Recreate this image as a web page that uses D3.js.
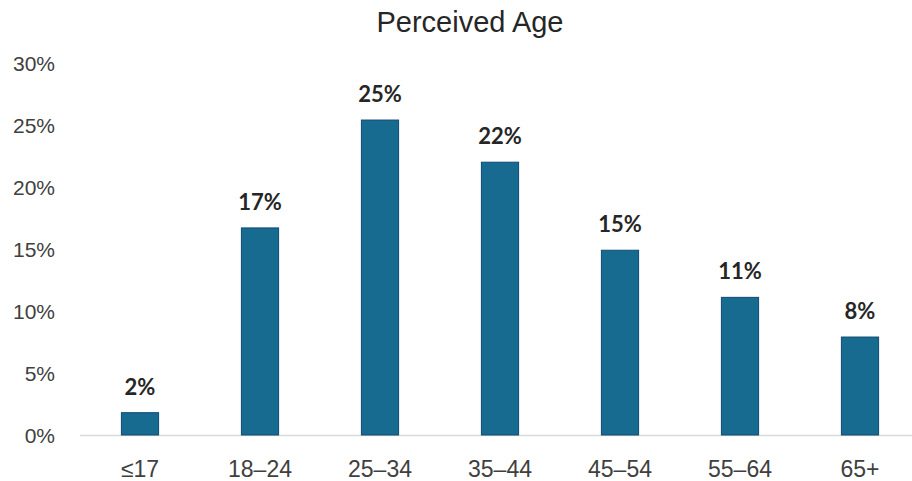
<!DOCTYPE html>
<html>
<head>
<meta charset="utf-8">
<script src="https://cdn.jsdelivr.net/npm/d3@7"></script>
<style>
  html, body { margin: 0; padding: 0; background: #ffffff; }
  svg { display: block; }
</style>
</head>
<body>
<svg id="chart" width="912" height="481"></svg>
<script>
const categories = ["≤17", "18–24", "25–34", "35–44", "45–54", "55–64", "65+"];
const values = [1.8, 16.7, 25.4, 22.0, 14.9, 11.1, 7.9];
const dataLabels = ["2%", "17%", "25%", "22%", "15%", "11%", "8%"];
const yTicks = [0, 5, 10, 15, 20, 25, 30];
const title = "Perceived Age";

const svg = d3.select("#chart");

const x = d3.scaleBand()
  .domain(categories)
  .range([80, 920])
  .paddingInner(0.69)
  .paddingOuter(0.345);

const y = d3.scaleLinear()
  .domain([0, 30])
  .range([435, 63]);

// Title
svg.append("text")
  .attr("x", 470)
  .attr("y", 32)
  .attr("text-anchor", "middle")
  .style("font-family", "'Liberation Sans', Arial, sans-serif")
  .style("font-size", "29px")
  .style("fill", "#262626")
  .text(title);

// Y axis
const yAxis = d3.axisLeft(y)
  .tickValues(yTicks)
  .tickFormat(d => d + "%")
  .tickSize(0)
  .tickPadding(0);

const gy = svg.append("g")
  .attr("transform", "translate(55,1)")
  .call(yAxis);
gy.select(".domain").remove();
gy.selectAll("text")
  .style("font-family", "'Liberation Sans', Arial, sans-serif")
  .style("font-size", "21px")
  .style("fill", "#404040");

// Baseline
svg.append("line")
  .attr("x1", 80).attr("x2", 912)
  .attr("y1", y(0) + 0.5).attr("y2", y(0) + 0.5)
  .attr("stroke", "#d9d9d9")
  .attr("stroke-width", 1.5);

// X axis
const xAxis = d3.axisBottom(x).tickSize(0).tickPadding(0);
const gx = svg.append("g")
  .attr("transform", "translate(0,477)")
  .call(xAxis);
gx.select(".domain").remove();
gx.selectAll("text")
  .attr("y", 0)
  .attr("dy", "0")
  .style("font-family", "'Liberation Sans', Arial, sans-serif")
  .style("font-size", "23px")
  .style("fill", "#404040");

// Bars
svg.append("g")
  .selectAll("rect")
  .data(values)
  .join("rect")
  .attr("x", (d, i) => x(categories[i]))
  .attr("y", d => y(d))
  .attr("width", x.bandwidth())
  .attr("height", d => y(0) - y(d))
  .attr("fill", "#176a90")
  .attr("stroke", "#114b72")
  .attr("stroke-width", 1);

// Data labels
svg.append("g")
  .selectAll("text")
  .data(values)
  .join("text")
  .attr("x", (d, i) => x(categories[i]) + x.bandwidth() / 2)
  .attr("y", d => y(d) - 18)
  .attr("text-anchor", "middle")
  .style("font-family", "Lato, 'Open Sans', sans-serif")
  .style("font-weight", "bold")
  .style("font-size", "22px")
  .style("fill", "#262626")
  .text((d, i) => dataLabels[i]);
</script>
</body>
</html>
